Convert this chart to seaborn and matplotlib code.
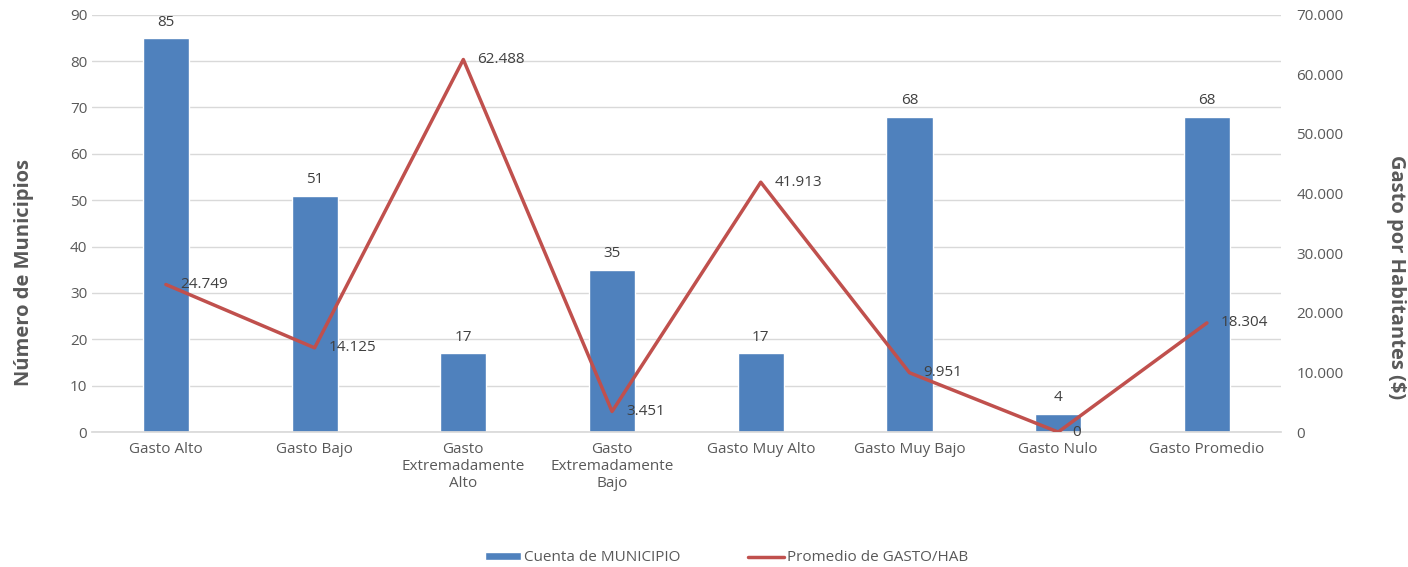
import matplotlib
matplotlib.use("Agg")
import matplotlib.pyplot as plt
import matplotlib.ticker as mticker
from matplotlib.patches import Patch
from matplotlib.lines import Line2D
import seaborn as sns
import pandas as pd

categorias = ["Gasto Alto", "Gasto Bajo", "Gasto\nExtremadamente\nAlto",
              "Gasto\nExtremadamente\nBajo", "Gasto Muy Alto", "Gasto Muy Bajo",
              "Gasto Nulo", "Gasto Promedio"]
cuenta_municipio = [85, 51, 17, 35, 17, 68, 4, 68]
gasto_hab = [24749, 14125, 62488, 3451, 41913, 9951, 0, 18304]

COLOR_BAR = "#4F81BD"
COLOR_LINE = "#C0504D"
GRIS = "#595959"

sns.set_theme(style="white")
plt.rcParams["font.family"] = ["Open Sans", "DejaVu Sans"]

df = pd.DataFrame({"cat": categorias, "n": cuenta_municipio, "gasto": gasto_hab})

fig = plt.figure(figsize=(14.08, 5.67), dpi=100)
ax1 = fig.add_axes([0.065, 0.238, 0.845, 0.736])

# barras: numero de municipios
sns.barplot(data=df, x="cat", y="n", color=COLOR_BAR, width=0.31, saturation=1,
            ax=ax1, zorder=2)
ax1.set_ylim(0, 90)
ax1.set_yticks(range(0, 91, 10))
ax1.set_xlim(-0.5, len(categorias) - 0.5)
ax1.yaxis.grid(True, color="#D9D9D9", linewidth=1)
ax1.set_axisbelow(True)
ax1.set_xlabel("")
ax1.set_ylabel("")
ax1.tick_params(axis="y", length=0, labelsize=11, colors=GRIS, pad=3)
ax1.tick_params(axis="x", length=0, labelsize=11, colors=GRIS, pad=7)
for s in ["top", "left", "right"]:
    ax1.spines[s].set_visible(False)
ax1.spines["bottom"].set_color("#D9D9D9")

for i, v in enumerate(cuenta_municipio):
    ax1.annotate(str(v), (i, v), xytext=(0, 6), textcoords="offset points",
                 ha="center", va="bottom", fontsize=11, color="#404040")

# linea: gasto promedio por habitante
ax2 = ax1.twinx()
sns.lineplot(x=list(range(len(categorias))), y=gasto_hab, color=COLOR_LINE,
             linewidth=2.5, ax=ax2)
ax2.set_ylim(0, 70000)
ax2.set_yticks(range(0, 70001, 10000))
ax2.yaxis.set_major_formatter(mticker.FuncFormatter(lambda v, p: f"{int(v):,}".replace(",", ".")))
ax2.tick_params(axis="y", length=0, labelsize=11, colors=GRIS, pad=11)
for s in ["top", "left", "right", "bottom"]:
    ax2.spines[s].set_visible(False)

for i, v in enumerate(gasto_hab):
    ax2.annotate(f"{v:,}".replace(",", "."), (i, v), xytext=(10, 0),
                 textcoords="offset points", ha="left", va="center",
                 fontsize=11, color="#404040")

fig.text(0.017, 0.52, "Número de Municipios", rotation=90, ha="center", va="center",
         fontsize=14.5, fontweight="bold", color=GRIS)
fig.text(0.9915, 0.511, "Gasto por Habitantes ($)", rotation=270, ha="center", va="center",
         fontsize=14.5, fontweight="bold", color=GRIS)

handles = [Patch(facecolor=COLOR_BAR), Line2D([0], [0], color=COLOR_LINE, linewidth=2.5)]
fig.legend(handles, ["Cuenta de MUNICIPIO", "Promedio de GASTO/HAB"],
           loc="center", bbox_to_anchor=(0.516, 0.016), ncol=2, frameon=False,
           fontsize=11, labelcolor=GRIS, handlelength=2.35, handleheight=0.5,
           handletextpad=0.2, columnspacing=4.4)

fig.savefig("out.png", dpi=100)
